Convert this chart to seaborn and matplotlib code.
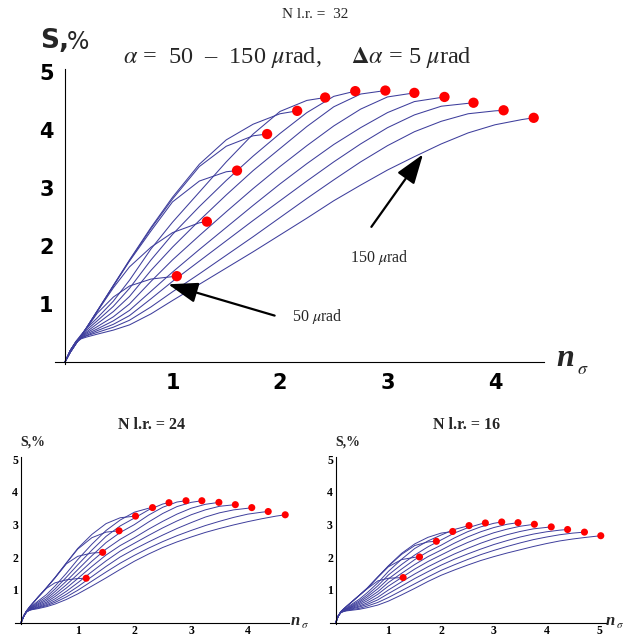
import numpy as np
import pandas as pd
import matplotlib
matplotlib.use("Agg")
import matplotlib.pyplot as plt
import seaborn as sns

# ---------------- data ----------------
GRID = [0, 0.05, 0.1, 0.15, 0.2, 0.3, 0.45, 0.6, 0.8, 1.0, 1.25, 1.5, 1.75, 2.0,
        2.25, 2.5, 2.75, 3.0, 3.25, 3.5, 3.75, 4.0, 4.25, 4.5, 4.75]

# N l.r. = 32 (main panel): end points (red dots)
END32_X = [1.04, 1.32, 1.60, 1.88, 2.16, 2.42, 2.70, 2.98, 3.25, 3.53, 3.80, 4.08, 4.36]
END32_Y = [1.48, 2.42, 3.30, 3.93, 4.33, 4.56, 4.67, 4.68, 4.64, 4.57, 4.47, 4.34, 4.21]
S32_1 = [0, .17, .31, .45, .58, .84, 1.12, 1.31, 1.43]
S32_2 = [0, .17, .31, .45, .59, .87, 1.28, 1.64, 1.98, 2.23, 2.40]
S32_3 = [0, .17, .31, .45, .59, .88, 1.31, 1.74, 2.26, 2.76, 3.12, 3.28]
S32_4 = [0, .17, .31, .45, .59, .88, 1.32, 1.75, 2.30, 2.81, 3.37, 3.72, 3.90]
S32_5 = [0, .17, .31, .45, .59, .88, 1.32, 1.76, 2.32, 2.84, 3.41, 3.83, 4.10, 4.28]
S32_6 = [0, .20, .35, .47, .58, .76, 1.05, 1.41, 1.95, 2.41, 2.93, 3.45, 3.93, 4.32, 4.51]
S32_7 = [0, .20, .35, .46, .55, .71, .96, 1.27, 1.76, 2.20, 2.68, 3.13, 3.55, 3.94, 4.30, 4.58]
S32_8 = [0, .20, .34, .44, .52, .66, .87, 1.13, 1.58, 1.98, 2.44, 2.88, 3.30, 3.68, 4.06, 4.40, 4.62]
S32_9 = [0, .20, .34, .43, .50, .61, .78, 1.00, 1.39, 1.76, 2.18, 2.59, 2.99, 3.37, 3.73, 4.07, 4.36, 4.57]
S32_10 = [0, .20, .34, .42, .48, .57, .71, .89, 1.22, 1.55, 1.94, 2.32, 2.70, 3.07, 3.42, 3.75, 4.04, 4.30, 4.49]
S32_11 = [0, .20, .33, .41, .46, .54, .65, .80, 1.09, 1.39, 1.74, 2.09, 2.44, 2.78, 3.12, 3.45, 3.76, 4.04, 4.26, 4.41]
S32_12 = [0, .20, .33, .41, .45, .51, .60, .72, .95, 1.21, 1.52, 1.84, 2.16, 2.49, 2.82, 3.14, 3.45, 3.73, 3.97, 4.15, 4.28, 4.33]
S32_13 = [0, .20, .33, .40, .43, .48, .55, .64, .83, 1.06, 1.34, 1.62, 1.90, 2.19, 2.48, 2.78, 3.05, 3.31, 3.54, 3.76, 3.95, 4.09, 4.18]

# N l.r. = 24
END24_X = [1.15, 1.44, 1.73, 2.02, 2.32, 2.61, 2.91, 3.19, 3.49, 3.78, 4.07, 4.36, 4.66]
END24_Y = [1.36, 2.15, 2.81, 3.26, 3.52, 3.67, 3.73, 3.73, 3.68, 3.61, 3.52, 3.40, 3.30]
S24_1 = [0, .20, .36, .48, .58, .78, 1.05, 1.22, 1.31, 1.35]
S24_2 = [0, .20, .36, .48, .58, .78, 1.07, 1.37, 1.80, 2.03, 2.13]
S24_3 = [0, .20, .36, .48, .58, .78, 1.07, 1.38, 1.82, 2.25, 2.60, 2.77]
S24_4 = [0, .20, .36, .48, .58, .78, 1.07, 1.38, 1.83, 2.27, 2.70, 3.03, 3.21]
S24_5 = [0, .22, .37, .44, .52, .66, .86, 1.12, 1.51, 1.93, 2.40, 2.82, 3.14, 3.38, 3.50]
S24_6 = [0, .22, .37, .43, .50, .62, .79, 1.03, 1.39, 1.77, 2.22, 2.64, 2.96, 3.20, 3.45, 3.63]
S24_7 = [0, .22, .36, .42, .48, .58, .73, .95, 1.27, 1.62, 2.05, 2.45, 2.76, 3.00, 3.29, 3.53, 3.69]
S24_8 = [0, .21, .35, .41, .46, .55, .68, .87, 1.16, 1.48, 1.88, 2.25, 2.55, 2.80, 3.08, 3.34, 3.55, 3.68]
S24_9 = [0, .21, .35, .40, .45, .52, .63, .80, 1.06, 1.35, 1.72, 2.07, 2.36, 2.60, 2.86, 3.10, 3.32, 3.50, 3.62]
S24_10 = [0, .20, .34, .39, .43, .49, .59, .73, .96, 1.22, 1.56, 1.89, 2.19, 2.43, 2.67, 2.90, 3.11, 3.30, 3.45, 3.56]
S24_11 = [0, .20, .34, .39, .42, .47, .55, .67, .87, 1.10, 1.41, 1.72, 2.01, 2.25, 2.47, 2.68, 2.88, 3.06, 3.23, 3.36, 3.45, 3.50]
S24_12 = [0, .20, .33, .38, .41, .45, .52, .62, .79, .99, 1.27, 1.55, 1.82, 2.06, 2.28, 2.48, 2.66, 2.82, 2.97, 3.10, 3.22, 3.32, 3.38]
S24_13 = [0, .20, .33, .38, .40, .43, .49, .57, .71, .88, 1.12, 1.37, 1.63, 1.88, 2.10, 2.30, 2.47, 2.62, 2.76, 2.88, 2.99, 3.09, 3.18, 3.26]

# N l.r. = 16
END16_X = [1.28, 1.59, 1.91, 2.22, 2.53, 2.84, 3.15, 3.46, 3.77, 4.09, 4.40, 4.72, 5.03]
END16_Y = [1.38, 2.01, 2.49, 2.79, 2.97, 3.05, 3.08, 3.06, 3.01, 2.93, 2.85, 2.77, 2.66]
S16_1 = [0, .21, .34, .42, .49, .63, .84, 1.04, 1.28, 1.36]
S16_2 = [0, .21, .34, .42, .49, .63, .84, 1.05, 1.39, 1.71, 1.93, 2.00]
S16_3 = [0, .21, .34, .42, .49, .63, .84, 1.06, 1.40, 1.73, 2.09, 2.36, 2.47]
S16_4 = [0, .21, .34, .42, .49, .63, .84, 1.06, 1.40, 1.74, 2.12, 2.41, 2.61, 2.74]
S16_5 = [0, .21, .34, .40, .45, .56, .72, .92, 1.22, 1.57, 1.94, 2.27, 2.50, 2.68, 2.85]
S16_6 = [0, .21, .33, .39, .43, .53, .67, .85, 1.13, 1.46, 1.78, 2.07, 2.32, 2.53, 2.74, 2.90, 3.02]
S16_7 = [0, .21, .33, .38, .42, .50, .63, .79, 1.04, 1.34, 1.64, 1.93, 2.17, 2.37, 2.59, 2.78, 2.93, 3.04]
S16_8 = [0, .21, .33, .37, .41, .48, .59, .73, .95, 1.23, 1.51, 1.78, 2.02, 2.22, 2.43, 2.62, 2.78, 2.91, 3.01]
S16_9 = [0, .21, .32, .36, .40, .46, .55, .67, .87, 1.12, 1.38, 1.64, 1.87, 2.07, 2.27, 2.45, 2.61, 2.75, 2.86, 2.95]
S16_10 = [0, .21, .32, .36, .39, .44, .51, .61, .78, 1.00, 1.25, 1.49, 1.71, 1.91, 2.10, 2.27, 2.43, 2.57, 2.69, 2.79, 2.87]
S16_11 = [0, .21, .32, .35, .38, .42, .48, .56, .70, .89, 1.12, 1.35, 1.56, 1.76, 1.94, 2.10, 2.25, 2.39, 2.51, 2.62, 2.71, 2.78, 2.83]
S16_12 = [0, .21, .31, .35, .37, .40, .44, .51, .62, .77, .98, 1.19, 1.40, 1.60, 1.77, 1.93, 2.08, 2.21, 2.33, 2.44, 2.54, 2.62, 2.69, 2.74]
S16_13 = [0, .21, .31, .34, .36, .38, .41, .46, .54, .66, .85, 1.05, 1.26, 1.45, 1.61, 1.76, 1.90, 2.02, 2.13, 2.23, 2.33, 2.42, 2.50, 2.56, 2.61]

CURVES32 = [S32_1, S32_2, S32_3, S32_4, S32_5, S32_6, S32_7, S32_8, S32_9, S32_10, S32_11, S32_12, S32_13]
CURVES24 = [S24_1, S24_2, S24_3, S24_4, S24_5, S24_6, S24_7, S24_8, S24_9, S24_10, S24_11, S24_12, S24_13]
CURVES16 = [S16_1, S16_2, S16_3, S16_4, S16_5, S16_6, S16_7, S16_8, S16_9, S16_10, S16_11, S16_12, S16_13]

LINE_COLOR = "#3e3e9c"
DOT_COLOR = "#ff0000"


def build(curves, ex, ey):
    rows = []
    for k, ys in enumerate(curves):
        xs = GRID[:len(ys)] + [ex[k]]
        yy = list(ys) + [ey[k]]
        for x, y in zip(xs, yy):
            rows.append((k, x, y))
    return pd.DataFrame(rows, columns=["curve", "x", "y"])


sns.set_style("white")
plt.rcParams["font.family"] = ["Liberation Serif", "DejaVu Serif"]
plt.rcParams["mathtext.fontset"] = "stix"

W, H = 630, 637
fig = plt.figure(figsize=(W / 100, H / 100), dpi=100)


def fx(px):
    return px / W


def fy(py):
    return 1 - py / H


def style_axes(ax, xlim, ylim, xmaj, xmin, ymaj, ymin, lab_font, lab_size, lab_weight, pad,
               mlen, nlen):
    ax.set_xlim(*xlim)
    ax.set_ylim(*ylim)
    for s in ["top", "right"]:
        ax.spines[s].set_visible(False)
    for s in ["left", "bottom"]:
        ax.spines[s].set_position(("data", 0))
        ax.spines[s].set_linewidth(0.8)
        ax.spines[s].set_color("black")
    ax.set_xticks(xmaj)
    ax.set_xticks(xmin, minor=True)
    ax.set_yticks(ymaj)
    ax.set_yticks(ymin, minor=True)
    ax.set_xticklabels([str(v) for v in xmaj])
    ax.set_yticklabels([str(v) for v in ymaj])
    ax.tick_params(which="major", direction="in", length=mlen, width=0.7, pad=pad, colors="black")
    ax.tick_params(which="minor", direction="in", length=nlen, width=0.6, colors="black")
    for lbl in ax.get_xticklabels() + ax.get_yticklabels():
        lbl.set_fontfamily(lab_font)
        lbl.set_fontsize(lab_size)
        lbl.set_fontweight(lab_weight)
    ax.set_xlabel("")
    ax.set_ylabel("")
    ax.patch.set_alpha(0)
    ax.grid(False)


def draw_panel(ax, curves, ex, ey, lw, dot_s):
    df = build(curves, ex, ey)
    sns.lineplot(data=df, x="x", y="y", units="curve", estimator=None, sort=False,
                 color=LINE_COLOR, lw=lw, ax=ax, legend=False)
    dots = pd.DataFrame({"x": ex, "y": ey})
    sns.scatterplot(data=dots, x="x", y="y", color=DOT_COLOR, s=dot_s, edgecolor="none",
                    ax=ax, zorder=5, legend=False)


# ---------------- main panel ----------------
xl, xr = -0.09, 4.46
yb, yt = -0.03, 5.05
px0, ppx = 65, 107.5
py0, ppy = 362, 58.0
ax1 = fig.add_axes([fx(px0 + xl * ppx), fy(py0 - yb * ppy),
                    (xr - xl) * ppx / W, (yt - yb) * ppy / H])
draw_panel(ax1, CURVES32, END32_X, END32_Y, 0.75, 55)
style_axes(ax1, (xl, xr), (yb, yt), [1, 2, 3, 4], np.arange(0.2, 4.45, 0.2),
           [1, 2, 3, 4, 5], np.arange(0.2, 5.01, 0.2), "DejaVu Sans", 15, "bold", 8, 6, 3.5)
for lbl in ax1.get_yticklabels():
    lbl.set_x(-0.003)

ax1.annotate("", xy=(0.96, 1.34), xytext=(1.95, 0.80),
             arrowprops=dict(arrowstyle="-|>,head_length=1.3,head_width=0.45",
                             mutation_scale=14, lw=1.6, color="black", shrinkA=0, shrinkB=0))
ax1.annotate("", xy=(3.33, 3.58), xytext=(2.85, 2.33),
             arrowprops=dict(arrowstyle="-|>,head_length=1.3,head_width=0.45",
                             mutation_scale=14, lw=1.6, color="black", shrinkA=0, shrinkB=0))
ax1.text(2.11, 0.78, r"50 $\mu$rad", fontsize=11.5, va="center", ha="left")
ax1.text(2.65, 1.81, r"150 $\mu$rad", fontsize=11.5, va="center", ha="left")

fig.text(0.5, fy(15), "N l.r. =  32", fontsize=11, ha="center", va="center")
fig.text(fx(297), fy(58),
         r"$\alpha$ =  50  –  150 $\mu$rad,     $\mathbf{\Delta}\alpha$ = 5 $\mu$rad",
         fontsize=17.5, ha="center", va="center")
fig.text(fx(40), fy(41), "S,", fontsize=19, fontweight="bold", family="DejaVu Sans",
         ha="left", va="center")
fig.text(fx(67), fy(42), "%", fontsize=17, family="DejaVu Sans", ha="left", va="center")
fig.text(fx(556), fy(359), "n", fontsize=23, fontweight="bold", fontstyle="italic",
         ha="left", va="center")
fig.text(fx(577), fy(369), r"$\sigma$", fontsize=13, ha="left", va="center")


# ---------------- small panels ----------------
def small(px0s, ppxs, xl_s, xr_s, curves, ex, ey, xmaj, title, tx, nx):
    py0s, ppys = 622.7, 32.7
    yb_s, yt_s = -0.05, 5.08
    ax = fig.add_axes([fx(px0s + xl_s * ppxs), fy(py0s - yb_s * ppys),
                       (xr_s - xl_s) * ppxs / W, (yt_s - yb_s) * ppys / H])
    draw_panel(ax, curves, ex, ey, 0.7, 26)
    style_axes(ax, (xl_s, xr_s), (yb_s, yt_s), xmaj, np.arange(0.2, xr_s - 0.01, 0.2),
               [1, 2, 3, 4, 5], np.arange(0.2, 5.01, 0.2), "Liberation Serif", 8.5, "bold", 2,
               4, 2.2)
    fig.text(fx(tx), fy(425), title, fontsize=11.5, fontweight="bold", ha="center",
             va="center")
    fig.text(fx(tx - 132), fy(442), "S,%", fontsize=10, fontweight="bold", ha="left",
             va="center")
    fig.text(fx(nx), fy(621), "n", fontsize=12, fontweight="bold", fontstyle="italic",
             ha="left", va="center")
    fig.text(fx(nx + 10), fy(626), r"$\sigma$", fontsize=8, ha="left", va="center")
    return ax


small(21, 56.7, -0.1, 4.72, CURVES24, END24_X, END24_Y, [1, 2, 3, 4], "N l.r. = 24", 152, 291)
small(335.7, 52.7, -0.1, 5.12, CURVES16, END16_X, END16_Y, [1, 2, 3, 4, 5], "N l.r. = 16", 467, 606)

fig.savefig("out.png", dpi=100)
